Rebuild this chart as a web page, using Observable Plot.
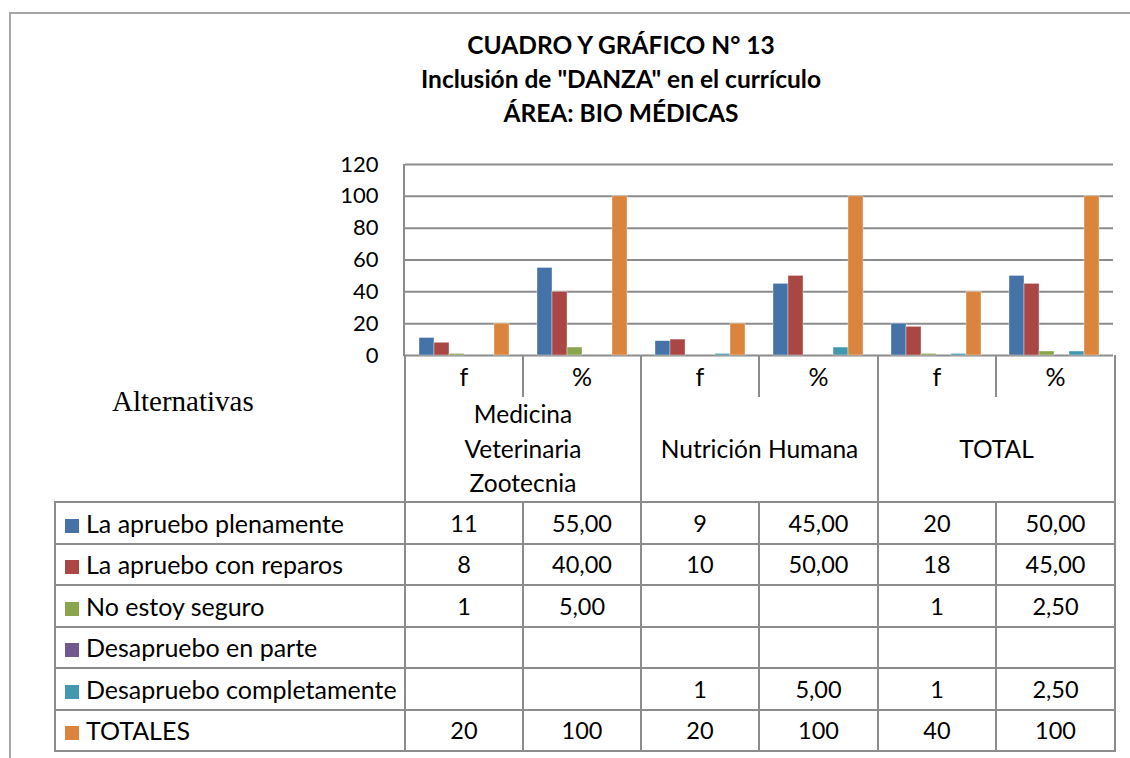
<!DOCTYPE html>
<html><head><meta charset="utf-8">
<script src="https://cdn.jsdelivr.net/npm/d3@7"></script>
<script src="https://cdn.jsdelivr.net/npm/@observablehq/plot@0.6"></script>
<style>
html,body{margin:0;padding:0;background:#fff;}
#wrap{position:relative;width:1130px;height:758px;overflow:hidden;font-family:Lato, sans-serif;color:#000;}
#frame{position:absolute;left:9px;top:12px;width:1130px;height:760px;border-left:2px solid #a6a6a6;border-top:2px solid #a6a6a6;}
#title{position:absolute;left:0;width:1242px;top:28px;text-align:center;font-weight:bold;font-size:24.5px;line-height:34px;}
#chart{position:absolute;left:0;top:150px;}
#yline{position:absolute;left:403px;top:164px;width:2px;height:192px;background:#8c8c8c;}
#alt{position:absolute;left:112px;top:387px;font-family:"Liberation Serif",serif;font-size:29px;line-height:29px;}
table{position:absolute;left:54px;top:355px;border-collapse:collapse;table-layout:fixed;width:1060px;font-size:23.5px;}
td{padding:0;text-align:center;vertical-align:middle;}
tr.cat td{height:42px;font-size:25px;}
tr.cat td.d{border-left:2px solid #8c8c8c;border-right:2px solid #8c8c8c;}
tr.grp td{height:104px;line-height:34.5px;font-size:24.5px;}
tr.grp td.d{border-left:2px solid #8c8c8c;border-right:2px solid #8c8c8c;}
tr.ser td{height:39.5px;border:2px solid #8c8c8c;}
tr.ser td.lab{text-align:left;padding-left:9px;white-space:nowrap;font-size:25px;}
.sw{display:inline-block;width:14px;height:14px;margin-right:7px;vertical-align:0px;}
</style></head>
<body><div id="wrap">
<div id="frame"></div>
<div id="title"></div>
<div id="chart"></div>
<div id="yline"></div>
<div id="alt">Alternativas</div>
<table id="tbl"></table>
</div>
<script>
const titleLines = ["CUADRO Y GRÁFICO N° 13", "Inclusión de \"DANZA\" en el currículo", "ÁREA: BIO MÉDICAS"];
const categories = ["f", "%", "f", "%", "f", "%"];
const groups = [["Medicina", "Veterinaria", "Zootecnia"], ["Nutrición Humana"], ["TOTAL"]];
const series = ["La apruebo plenamente", "La apruebo con reparos", "No estoy seguro", "Desapruebo en parte", "Desapruebo completamente", "TOTALES"];
const colors = ["#4572A7", "#AA4643", "#89A54E", "#71588F", "#4198AF", "#DB843D"];
const plenamente = [11, 55, 9, 45, 20, 50];
const reparos = [8, 40, 10, 50, 18, 45];
const noSeguro = [1, 5, null, null, 1, 2.5];
const enParte = [null, null, null, null, null, null];
const completamente = [null, null, 1, 5, 1, 2.5];
const totales = [20, 100, 20, 100, 40, 100];
const values = [plenamente, reparos, noSeguro, enParte, completamente, totales];
const yTicks = [0, 20, 40, 60, 80, 100, 120];

document.getElementById("title").innerHTML = titleLines.map(t => `<div>${t.replace(/"/g, "&quot;")}</div>`).join("");

const rows = [];
series.forEach((s, si) => values[si].forEach((v, ci) => { if (v != null) rows.push({serie: s, cat: ci, value: v}); }));

const plot = Plot.plot({
  width: 1130, height: 207,
  marginLeft: 404, marginRight: 17, marginTop: 14, marginBottom: 2,
  style: {fontFamily: "Lato, sans-serif", fontSize: "22px", color: "#000", background: "transparent", overflow: "visible"},
  fx: {domain: d3.range(categories.length), padding: 0, axis: null},
  x: {domain: series, paddingInner: 0, paddingOuter: 0.7, axis: null},
  y: {domain: [0, 120], ticks: yTicks, tickSize: 0, tickPadding: 27, label: null, tickFormat: d => String(d)},
  color: {domain: series, range: colors},
  marks: [
    Plot.ruleY(yTicks, {stroke: "#8c8c8c", strokeWidth: 2}),
    Plot.barY(rows, {fx: "cat", x: "serie", y: "value", fill: "serie", stroke: "#ffffff", strokeOpacity: 0.6, strokeWidth: 0.6})
  ]
});
document.getElementById("chart").appendChild(plot);

function fmt(v, ci) {
  if (v == null) return "";
  if (categories[ci] === "f") return String(v);
  return v === 100 ? "100" : v.toFixed(2).replace(".", ",");
}
const colW = [350, 118, 118, 118, 119, 118, 119];
let html = "<colgroup>" + colW.map(w => `<col style="width:${w}px">`).join("") + "</colgroup>";
html += "<tr class='cat'><td></td>" + categories.map(c => `<td class='d'>${c}</td>`).join("") + "</tr>";
html += "<tr class='grp'><td></td>" + groups.map(g => `<td class='d' colspan='2'>${g.join("<br>")}</td>`).join("") + "</tr>";
series.forEach((s, si) => {
  html += `<tr class='ser'><td class='lab'><span class='sw' style='background:${colors[si]}'></span>${s}</td>` +
    values[si].map((v, ci) => `<td>${fmt(v, ci)}</td>`).join("") + "</tr>";
});
document.getElementById("tbl").innerHTML = html;
</script>
</body></html>
